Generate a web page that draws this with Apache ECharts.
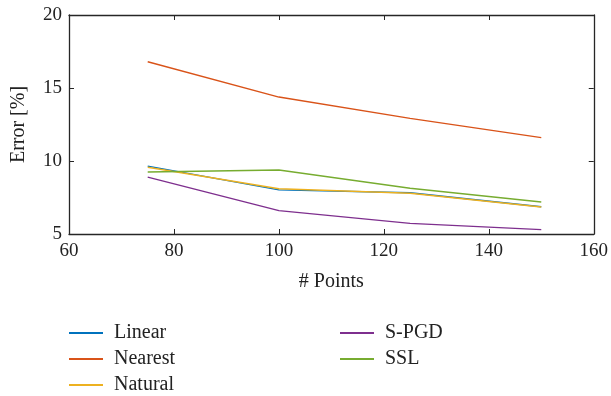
<!DOCTYPE html>
<html>
<head>
<meta charset="utf-8">
<script src="https://cdn.jsdelivr.net/npm/echarts@6/dist/echarts.min.js"></script>
<style>
html, body { margin: 0; padding: 0; background: #fff; }
#chart { width: 611px; height: 396px; }
</style>
</head>
<body>
<div id="chart"></div>
<script>
// data
var points = [75, 100, 125, 150];
var linear = [9.65, 8.02, 7.83, 6.87];
var nearest = [16.8, 14.38, 12.92, 11.6];
var natural = [9.57, 8.1, 7.79, 6.85];
var spgd = [8.9, 6.6, 5.73, 5.3];
var ssl = [9.25, 9.38, 8.13, 7.19];

var xTicks = [60, 80, 100, 120, 140, 160];
var yTicks = [5, 10, 15, 20];

var font = 'Liberation Serif';
var axisColor = '#262626';

function pairs(vals) {
    return points.map(function (p, i) { return [p, vals[i]]; });
}

function line(name, vals, color) {
    return {
        name: name,
        type: 'line',
        data: pairs(vals),
        symbol: 'none',
        lineStyle: { width: 1.4, color: color },
        itemStyle: { color: color },
        animation: false
    };
}

function legend(names, left) {
    return {
        data: names,
        orient: 'vertical',
        left: left, top: 318, height: 100,
        icon: 'rect',
        itemWidth: 34, itemHeight: 2, itemGap: 6,
        textStyle: { fontFamily: font, fontSize: 20, color: '#222', lineHeight: 20, padding: [0, 0, 0, 6] }
    };
}

var chart = echarts.init(document.getElementById('chart'));

var boxAxis = {
    axisLine: { show: true, lineStyle: { color: axisColor, width: 1.3 } },
    axisTick: { show: true, inside: true, length: 5, lineStyle: { color: axisColor } },
    axisLabel: { show: false },
    splitLine: { show: false }
};

chart.setOption({
    backgroundColor: '#fff',
    grid: { left: 69, right: 17, top: 15, bottom: 162 },
    legend: [
        legend(['Linear', 'Nearest', 'Natural'], 64),
        legend(['S-PGD', 'SSL'], 335)
    ],
    xAxis: [
        {
            type: 'value',
            min: xTicks[0], max: xTicks[xTicks.length - 1], interval: 20,
            name: '# Points', nameLocation: 'middle', nameGap: 38,
            nameTextStyle: { fontFamily: font, fontSize: 20, color: '#222' },
            axisLine: { show: true, lineStyle: { color: axisColor, width: 1.3 } },
            axisTick: { show: true, inside: true, length: 5, lineStyle: { color: axisColor } },
            axisLabel: { fontFamily: font, fontSize: 19, color: '#222', margin: 8 },
            splitLine: { show: false }
        },
        Object.assign({ type: 'value', position: 'top', min: 60, max: 160, interval: 20 }, boxAxis)
    ],
    yAxis: [
        {
            type: 'value',
            min: yTicks[0], max: yTicks[yTicks.length - 1], interval: 5,
            name: 'Error [%]', nameLocation: 'middle', nameGap: 40,
            nameTextStyle: { fontFamily: font, fontSize: 20, color: '#222' },
            axisLine: { show: true, lineStyle: { color: axisColor, width: 1.3 } },
            axisTick: { show: true, inside: true, length: 5, lineStyle: { color: axisColor } },
            axisLabel: { fontFamily: font, fontSize: 19, color: '#222', margin: 7 },
            splitLine: { show: false }
        },
        Object.assign({ type: 'value', position: 'right', min: 5, max: 20, interval: 5 }, boxAxis)
    ],
    series: [
        line('Linear', linear, '#0072BD'),
        line('Nearest', nearest, '#D95319'),
        line('Natural', natural, '#EDB120'),
        line('S-PGD', spgd, '#7E2F8E'),
        line('SSL', ssl, '#77AC30')
    ]
});
</script>
</body>
</html>
